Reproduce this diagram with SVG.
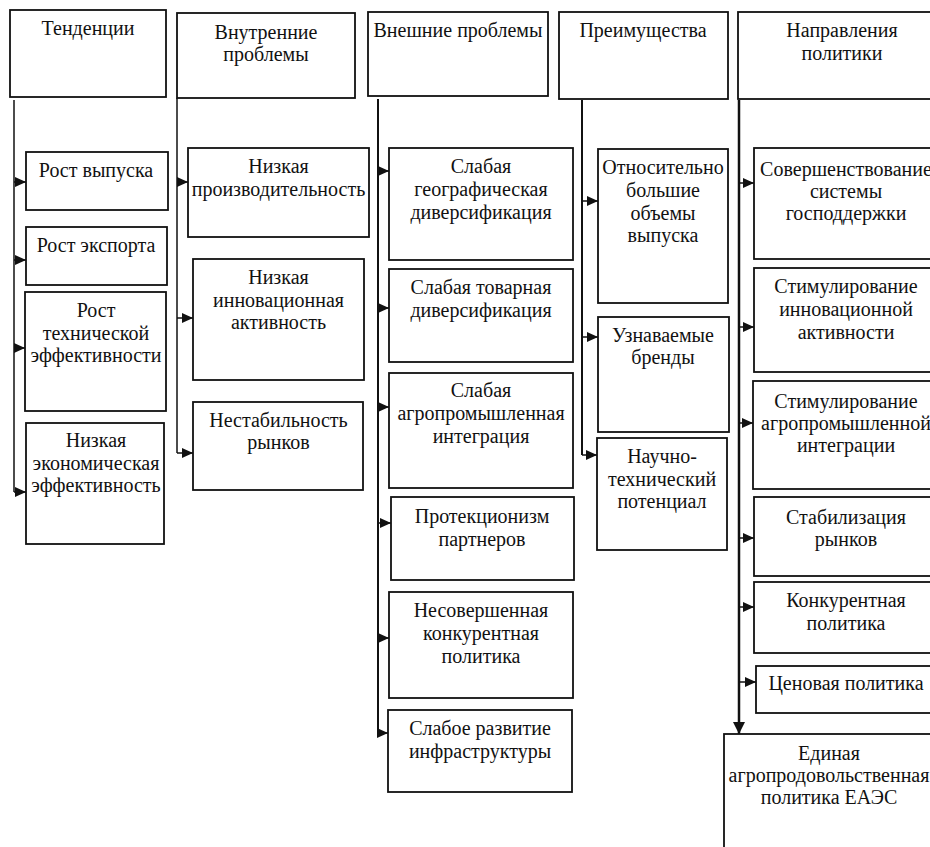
<svg xmlns="http://www.w3.org/2000/svg" width="930" height="847" viewBox="0 0 930 847">
<style>
.box{fill:#fff;stroke:#111;stroke-width:1.8}
text{font-family:"Liberation Serif","Times New Roman",serif;font-size:20px;fill:#111;text-anchor:middle}
.ln{stroke:#111;fill:none}
.ar{stroke:#111;stroke-width:1.5;fill:none;marker-end:url(#ah)}
</style>
<defs>
<marker id="ah" markerUnits="userSpaceOnUse" markerWidth="11" markerHeight="10" refX="11" refY="5" orient="auto"><path d="M0,0 L11,5 L0,10 z" fill="#111"/></marker>
<marker id="ahd" markerUnits="userSpaceOnUse" markerWidth="12" markerHeight="12" refX="12" refY="6" orient="auto"><path d="M0,0 L12,6 L0,12 z" fill="#111"/></marker>
</defs>
<rect width="930" height="847" fill="#fff"/>
<g id="connectors">
<line class="ln" x1="14" y1="100" x2="14" y2="492" stroke-width="1.5"/>
<line class="ln" x1="177" y1="98" x2="177" y2="453" stroke-width="1.5"/>
<line class="ln" x1="378" y1="99" x2="378" y2="733" stroke-width="2"/>
<line class="ln" x1="582" y1="100" x2="582" y2="455" stroke-width="2"/>
<line class="ln" x1="739" y1="100" x2="739" y2="734" stroke-width="2.5" marker-end="url(#ahd)"/>
<line class="ar" x1="14" y1="182" x2="26" y2="182"/>
<line class="ar" x1="14" y1="260" x2="26" y2="260"/>
<line class="ar" x1="14" y1="348" x2="25" y2="348"/>
<line class="ar" x1="14" y1="492" x2="26" y2="492"/>
<line class="ar" x1="177" y1="182" x2="188" y2="182"/>
<line class="ar" x1="177" y1="318" x2="193" y2="318"/>
<line class="ar" x1="177" y1="453" x2="193" y2="453"/>
<line class="ar" x1="378" y1="171" x2="389" y2="171"/>
<line class="ar" x1="378" y1="308" x2="389" y2="308"/>
<line class="ar" x1="378" y1="407" x2="389" y2="407"/>
<line class="ar" x1="378" y1="523" x2="391" y2="523"/>
<line class="ar" x1="378" y1="638" x2="389" y2="638"/>
<line class="ar" x1="378" y1="733" x2="388" y2="733"/>
<line class="ar" x1="582" y1="201" x2="598" y2="201"/>
<line class="ar" x1="582" y1="337" x2="598" y2="337"/>
<line class="ar" x1="582" y1="455" x2="597" y2="455"/>
<line class="ar" x1="739" y1="183" x2="754" y2="183"/>
<line class="ar" x1="739" y1="327" x2="754" y2="327"/>
<line class="ar" x1="739" y1="423" x2="753" y2="423"/>
<line class="ar" x1="739" y1="538" x2="754" y2="538"/>
<line class="ar" x1="739" y1="607" x2="754" y2="607"/>
<line class="ar" x1="739" y1="682" x2="756" y2="682"/>
</g>
<g id="h1"><rect class="box" x="10" y="10" width="156" height="87"/><text x="88" y="35">Тенденции</text></g>
<g id="h2"><rect class="box" x="177" y="13" width="178" height="85"/><text x="266" y="39">Внутренние</text><text x="266" y="61">проблемы</text></g>
<g id="h3"><rect class="box" x="368" y="12" width="180" height="84"/><text x="458" y="37">Внешние проблемы</text></g>
<g id="h4"><rect class="box" x="559" y="12" width="169" height="87"/><text x="643" y="37">Преимущества</text></g>
<g id="h5"><rect class="box" x="738" y="12" width="210" height="87"/><text x="842" y="37">Направления</text><text x="842" y="60">политики</text></g>

<g id="t1"><rect class="box" x="26" y="152" width="142" height="58"/><text x="96" y="177">Рост выпуска</text></g>
<g id="t2"><rect class="box" x="26" y="227" width="141" height="58"/><text x="96" y="252">Рост экспорта</text></g>
<g id="t3"><rect class="box" x="25" y="292" width="141" height="119"/><text x="96" y="317">Рост</text><text x="96" y="339.5">технической</text><text x="96" y="362">эффективности</text></g>
<g id="t4"><rect class="box" x="26" y="423" width="138" height="121"/><text x="96" y="447">Низкая</text><text x="96" y="469.5">экономическая</text><text x="96" y="492">эффективность</text></g>

<g id="i1"><rect class="box" x="188" y="148" width="181" height="89"/><text x="278.5" y="173">Низкая</text><text x="278.5" y="195.5">производительность</text></g>
<g id="i2"><rect class="box" x="193" y="259" width="171" height="121"/><text x="278.5" y="284">Низкая</text><text x="278.5" y="306.5">инновационная</text><text x="278.5" y="329">активность</text></g>
<g id="i3"><rect class="box" x="193" y="402" width="170" height="88"/><text x="278.5" y="427">Нестабильность</text><text x="278.5" y="449">рынков</text></g>

<g id="e1"><rect class="box" x="389" y="148" width="184" height="112"/><text x="481" y="173">Слабая</text><text x="481" y="196">географическая</text><text x="481" y="219">диверсификация</text></g>
<g id="e2"><rect class="box" x="389" y="269" width="184" height="93"/><text x="481" y="294">Слабая товарная</text><text x="481" y="317">диверсификация</text></g>
<g id="e3"><rect class="box" x="389" y="373" width="184" height="115"/><text x="481" y="397">Слабая</text><text x="481" y="420">агропромышленная</text><text x="481" y="443">интеграция</text></g>
<g id="e4"><rect class="box" x="391" y="497" width="183" height="83"/><text x="482" y="523">Протекционизм</text><text x="482" y="546">партнеров</text></g>
<g id="e5"><rect class="box" x="389" y="592" width="184" height="106"/><text x="481" y="617">Несовершенная</text><text x="481" y="640">конкурентная</text><text x="481" y="663">политика</text></g>
<g id="e6"><rect class="box" x="388" y="710" width="184" height="82"/><text x="480" y="735">Слабое развитие</text><text x="480" y="758">инфраструктуры</text></g>

<g id="a1"><rect class="box" x="598" y="149" width="130" height="154"/><text x="663" y="174">Относительно</text><text x="663" y="197">большие</text><text x="663" y="219.5">объемы</text><text x="663" y="242">выпуска</text></g>
<g id="a2"><rect class="box" x="598" y="317" width="131" height="115"/><text x="663" y="342">Узнаваемые</text><text x="663" y="364">бренды</text></g>
<g id="a3"><rect class="box" x="597" y="438" width="130" height="112"/><text x="662" y="463">Научно-</text><text x="662" y="485.5">технический</text><text x="662" y="508">потенциал</text></g>

<g id="d1"><rect class="box" x="754" y="148" width="184" height="111"/><text x="846" y="176">Совершенствование</text><text x="846" y="198">системы</text><text x="846" y="220">господдержки</text></g>
<g id="d2"><rect class="box" x="754" y="268" width="184" height="104"/><text x="846" y="293">Стимулирование</text><text x="846" y="316">инновационной</text><text x="846" y="339">активности</text></g>
<g id="d3"><rect class="box" x="753" y="381" width="185" height="108"/><text x="846" y="408">Стимулирование</text><text x="846" y="430">агропромышленной</text><text x="846" y="452">интеграции</text></g>
<g id="d4"><rect class="box" x="754" y="497" width="184" height="79"/><text x="846" y="524">Стабилизация</text><text x="846" y="546">рынков</text></g>
<g id="d5"><rect class="box" x="754" y="582" width="184" height="71"/><text x="846" y="607">Конкурентная</text><text x="846" y="630">политика</text></g>
<g id="d6"><rect class="box" x="756" y="666" width="182" height="47"/><text x="846" y="690">Ценовая политика</text></g>
<g id="d7"><rect class="box" x="724" y="734" width="212" height="130"/><text x="829" y="760">Единая</text><text x="829" y="782">агропродовольственная</text><text x="829" y="804">политика ЕАЭС</text></g>
</svg>
